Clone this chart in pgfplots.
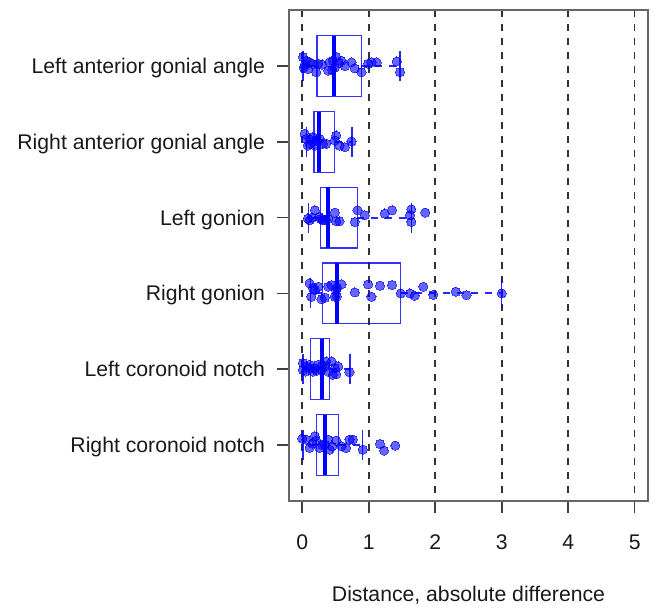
\documentclass[border=0pt]{standalone}
\usepackage{fontspec}
\setmainfont{Liberation Sans}
\usepackage{pgfplots}
\pgfplotsset{compat=1.18}
\usepgfplotslibrary{statistics}

\begin{document}
\begin{tikzpicture}
\useasboundingbox (-144.5pt,-54pt) rectangle (186pt,250.5pt);
\begin{axis}[
    at={(0,0)}, anchor=south west,
    scale only axis, width=179.5pt, height=245.5pt,
    xmin=-0.2, xmax=5.2, ymin=0.26, ymax=6.74, y dir=reverse,
    xtick={0,1,2,3,4,5}, ytick={1,2,3,4,5,6},
    yticklabels={Left anterior gonial angle, Right anterior gonial angle,
        Left gonion, Right gonion, Left coronoid notch, Right coronoid notch},
    xtick pos=left, ytick pos=left,
    tick align=outside, major tick length=6pt,
    tick style={black!75, line width=0.8pt},
    axis line style={black!60, line width=0.9pt},
    xmajorgrids,
    major grid style={black!80, line width=0.8pt, dash pattern=on 3.5pt off 3.5pt},
    /pgf/number format/assume math mode=true,
    every tick label/.append style={font=\fontsize{10.6}{12}\selectfont, text=black!90},
    x tick label style={text height=7.6pt, text depth=0pt, yshift=-7pt},
    y tick label style={text height=7.6pt, text depth=0pt, xshift=-2.5pt},
    xlabel={Distance, absolute difference},
    xlabel style={font=\fontsize{10.6}{12}\selectfont, text=black!90,
        at={(axis description cs:0.5,0)}, anchor=base, yshift=-50.5pt},
    boxplot/draw direction=x,
    boxplot/box extend=0.8,
    boxplot/whisker extend=0,
    boxplot/every box/.style={draw=blue, draw opacity=0.8, line width=0.6pt},
    boxplot/every median/.style={draw=blue, line width=2pt},
    boxplot/every whisker/.style={draw=blue!85!white, line width=0.9pt,
        dash pattern=on 3.5pt off 3.5pt},
]
% boxes (min whisker, q1, median, q3, max whisker)
\addplot[blue, boxplot prepared={draw position=1, lower whisker=0.01, lower quartile=0.22,
    median=0.48, upper quartile=0.89, upper whisker=1.47}] coordinates {};
\addplot[blue, boxplot prepared={draw position=2, lower whisker=0.06, lower quartile=0.175,
    median=0.25, upper quartile=0.49, upper whisker=0.75}] coordinates {};
\addplot[blue, boxplot prepared={draw position=3, lower whisker=0.095, lower quartile=0.27,
    median=0.39, upper quartile=0.83, upper whisker=1.64}] coordinates {};
\addplot[blue, boxplot prepared={draw position=4, lower whisker=0.12, lower quartile=0.30,
    median=0.52, upper quartile=1.48, upper whisker=3.0}] coordinates {};
\addplot[blue, boxplot prepared={draw position=5, lower whisker=0.01, lower quartile=0.125,
    median=0.30, upper quartile=0.41, upper whisker=0.72}] coordinates {};
\addplot[blue, boxplot prepared={draw position=6, lower whisker=0.01, lower quartile=0.21,
    median=0.34, upper quartile=0.55, upper whisker=0.91}] coordinates {};

% whisker caps
\addplot[only marks, mark=|, mark size=7.55pt, blue,
    mark options={line width=0.7pt, opacity=0.85}] coordinates {
    (0.01,1) (1.47,1) (0.06,2) (0.75,2) (0.095,3) (1.64,3)
    (0.12,4) (3.0,4) (0.01,5) (0.72,5) (0.01,6) (0.91,6)};

% jittered observations
\addplot[only marks, mark=*, mark size=2.3pt, color=blue, opacity=0.6,
    mark options={draw=blue, fill=blue, line width=0pt}] coordinates {
    (0.01,0.88) (0.06,0.93) (0.11,0.95) (0.085,1.04) (0.035,0.985) (0.24,0.97)
    (0.21,1.08) (0.39,1.06) (0.41,0.95) (0.46,0.93) (0.49,1.02) (0.51,0.88)
    (0.59,0.93) (0.64,1.00) (0.74,0.95) (0.79,1.03) (0.89,1.08) (0.99,0.97)
    (1.04,0.95) (1.12,0.95) (1.42,0.94) (1.47,1.08) (0.02,1.02) (0.15,0.97)
    (0.45,1.05) (0.30,0.98) (0.55,0.96)
    (0.035,1.895) (0.06,1.96) (0.11,2.026) (0.16,1.94) (0.21,1.982) (0.26,1.96)
    (0.31,2.026) (0.36,2.026) (0.49,1.982) (0.51,1.917) (0.56,2.049) (0.64,2.07)
    (0.74,1.996) (0.085,2.049) (0.19,2.049) (0.22,1.99) (0.12,1.97)
    (0.085,3.013) (0.11,3.035) (0.19,2.903) (0.26,2.991) (0.31,3.035) (0.39,3.013)
    (0.49,2.934) (0.51,3.048) (0.56,3.048) (0.79,3.057) (0.83,2.903) (0.94,2.969)
    (1.24,2.947) (1.35,2.903) (1.64,2.89) (1.62,2.969) (1.64,3.057) (1.85,2.934)
    (0.35,3.03) (0.28,3.02) (0.15,3.00)
    (0.11,3.868) (0.135,4.044) (0.19,3.956) (0.24,3.912) (0.29,4.075) (0.34,4.057)
    (0.39,3.912) (0.44,3.89) (0.49,4.044) (0.51,3.956) (0.59,3.881) (0.79,3.987)
    (0.99,3.881) (1.04,4.044) (1.17,3.899) (1.35,3.89) (1.48,4.0) (1.62,4.0)
    (1.69,4.031) (1.82,3.912) (1.97,4.02) (2.31,3.978) (2.47,4.022) (3.0,4.0)
    (0.52,4.04) (0.52,3.93) (0.16,3.93)
    (0.01,4.92) (0.01,5.009) (0.06,4.965) (0.11,4.942) (0.16,5.031) (0.19,4.987)
    (0.24,4.942) (0.29,5.009) (0.34,4.965) (0.36,4.9) (0.39,5.031) (0.44,4.9)
    (0.46,5.075) (0.49,4.987) (0.54,4.965) (0.51,5.066) (0.71,5.04) (0.05,5.03)
    (0.13,4.99) (0.22,5.02) (0.30,4.95)
    (0.0,5.917) (0.06,5.93) (0.11,6.04) (0.19,5.886) (0.21,5.943) (0.26,6.04)
    (0.34,5.996) (0.39,5.93) (0.41,6.062) (0.51,5.943) (0.59,6.018) (0.66,6.04)
    (0.71,5.93) (0.76,5.93) (0.91,6.062) (1.17,5.987) (1.23,6.075) (1.40,6.009)
    (0.30,6.0) (0.15,5.98) (0.45,6.02)};
\end{axis}
\end{tikzpicture}
\end{document}
